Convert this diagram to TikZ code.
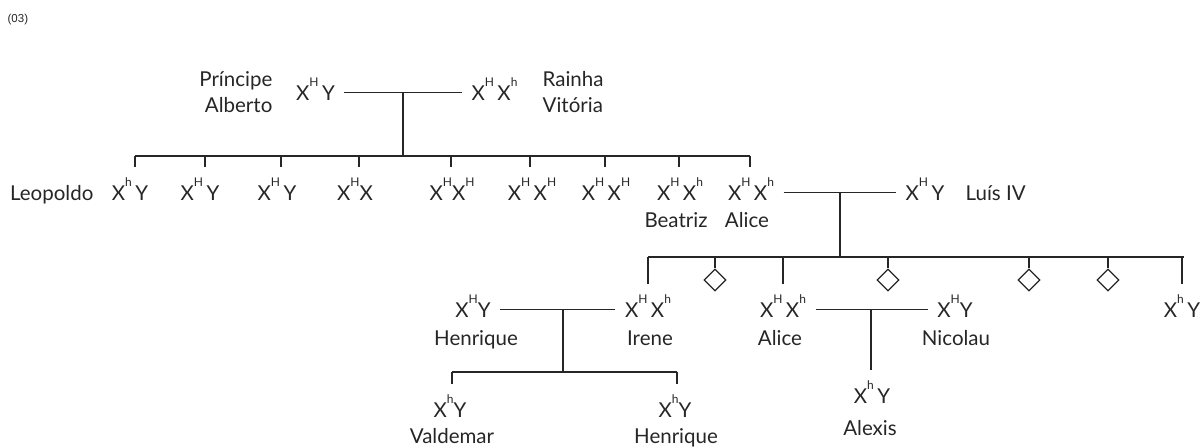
\documentclass[tikz,border=0pt]{standalone}
\usepackage{fontspec}
\setmainfont{Lato}
\newfontfamily\tagfont{Liberation Sans}
\usetikzlibrary{calc}
\usetikzlibrary{positioning}
\usetikzlibrary{shapes.geometric}

\newcommand{\xg}[1]{X\raisebox{0.68em}{\fontsize{12}{12}\selectfont #1}}

\tikzset{
  geno/.style={inner xsep=9pt, inner ysep=17pt, text height=15pt, text depth=0pt, anchor=base},
  who/.style={inner sep=0pt, anchor=base},
  pair/.style={inner sep=0pt},
  unk/.style={diamond, draw, inner sep=0pt, minimum size=22pt},
}

\begin{document}
\begin{tikzpicture}[x=1pt, y=-1pt, line width=1.3pt, color=black!85,
  font=\fontsize{20.5}{26.5}\selectfont]
\useasboundingbox (0,0) rectangle (1201,447);

\node[who, anchor=base west, font=\tagfont\fontsize{11.5}{12}\selectfont] (tag) at (7,22) {(03)};

% Alberto e Vitoria
\node[geno] (alberto) at (315.5,100) {\xg{H}\,Y};
\node[geno] (vitoria) at (494.5,100) {\xg{H}\,\xg{h}};
\node[pair, align=right, anchor=east] (alberto-name) at (273,92) {Príncipe\\Alberto};
\node[pair, align=left, anchor=west] (vitoria-name) at (542,92) {Rainha\\Vitória};
\draw (alberto) -- (vitoria);
\coordinate (m1) at (403,92.5);
\coordinate (bar1) at (135,156);
\coordinate (bar1e) at (750,156);
\draw (m1) -- (m1 |- bar1);
\draw (bar1) -- (bar1e);

\foreach \n/\x/\t/\g in {1/130/135/{\xg{h}\,Y}, 2/200/205/{\xg{H}\,Y}, 3/277/281/{\xg{H}\,Y},
  4/355/359/{\xg{H}X}, 5/452/451/{\xg{H}\xg{H}}, 6/532/530/{\xg{H}\,\xg{H}},
  7/606/605/{\xg{H}\,\xg{H}}, 8/680/679/{\xg{H}\,\xg{h}}, 9/751/750/{\xg{H}\,\xg{h}}}
{
  \node[geno] (k\n) at (\x,200) {\g};
  \coordinate (t\n) at (\t,156);
  \draw (t\n) -- (t\n |- k\n.north);
}
\node[who, anchor=base east] (leopoldo) at (94,200) {Leopoldo};
\node[who] (beatriz) at (676,227) {Beatriz};
\node[who] (alice) at (747,227) {Alice};

% Alice e Luis IV
\node[geno] (luis) at (925,200) {\xg{H}\,Y};
\node[who, anchor=base west] (luis-name) at (965,200) {Luís IV};
\draw (k9) -- (luis);
\coordinate (m2) at (840,192.5);
\coordinate (bar2) at (648,257);
\coordinate (bar2e) at (1184,257);
\draw (m2) -- (m2 |- bar2);
\draw (bar2) -- (bar2e);

\node[geno] (irene) at (648,317) {\xg{H}\,\xg{h}};
\node[who] (irene-name) at (650,345) {Irene};
\node[geno] (alice2) at (783,317) {\xg{H}\,\xg{h}};
\node[who] (alice2-name) at (780,345) {Alice};
\node[geno] (k16) at (1182,317) {\xg{h}\,Y};
\draw (irene.north) -- (irene |- bar2);
\draw (alice2.north) -- (alice2 |- bar2);
\draw (k16.north) -- (k16 |- bar2);
\foreach \n/\x in {1/715, 2/888, 3/1029, 4/1108}
{
  \node[unk] (d\n) at (\x,280) {};
  \draw (d\n.north) -- (d\n |- bar2);
}

% Henrique e Irene
\node[geno] (henrique) at (473,317) {\xg{H}Y};
\node[who] (henrique-name) at (476,345) {Henrique};
\draw (henrique) -- (irene);
\coordinate (m3) at (563,309.5);
\coordinate (bar3) at (452,372);
\coordinate (bar3e) at (677,372);
\draw (m3) -- (m3 |- bar3);
\draw (bar3) -- (bar3e);
\node[geno] (valdemar) at (450,417) {\xg{h}Y};
\node[who] (valdemar-name) at (452,443) {Valdemar};
\node[geno] (henrique3) at (675,417) {\xg{h}Y};
\node[who] (henrique3-name) at (676,443) {Henrique};
\draw (bar3) -- (bar3 |- valdemar.north);
\draw (bar3e) -- (bar3e |- henrique3.north);

% Alice e Nicolau
\node[geno] (nicolau) at (955,317) {\xg{H}Y};
\node[who] (nicolau-name) at (956,345) {Nicolau};
\draw (alice2) -- (nicolau);
\coordinate (m4) at (871,309.5);
\node[geno] (alexis) at (872,403) {\xg{h}\,Y};
\node[who] (alexis-name) at (870,435) {Alexis};
\draw (m4) -- (m4 |- alexis.north);

\end{tikzpicture}
\end{document}
